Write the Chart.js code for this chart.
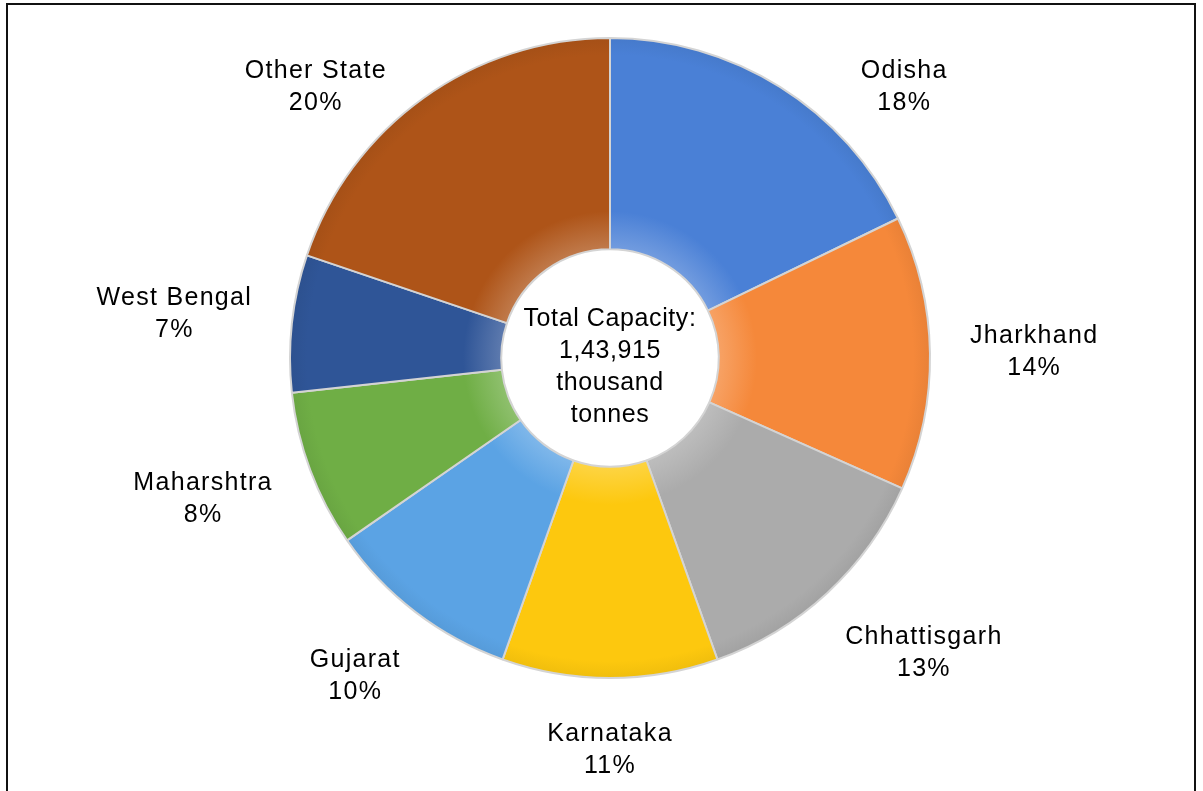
<!DOCTYPE html>
<html>
<head>
<meta charset="utf-8">
<title>Steel capacity by state</title>
<script src="https://cdn.jsdelivr.net/npm/chart.js@4.4.1/dist/chart.umd.min.js"></script>
<style>
  html, body { margin: 0; padding: 0; background: #fff; overflow: hidden; }
  .wrap { position: relative; width: 1203px; height: 791px; }
  .frame { position: absolute; left: 6px; top: 3px; width: 1186px; height: 830px; border: 2px solid #111; }
  canvas { position: absolute; left: 0; top: 0; }
</style>
</head>
<body>
<div class="wrap">
  <div class="frame"></div>
  <canvas id="capacityChart" width="1203" height="791"></canvas>
</div>
<script>
const states = ["Odisha", "Jharkhand", "Chhattisgarh", "Karnataka", "Gujarat", "Maharshtra", "West Bengal", "Other State"];
const shares = [18, 14, 13, 11, 10, 8, 7, 20]; // % of total capacity
const sliceColors = ["#4a80d6", "#f5883a", "#ababab", "#fdc80e", "#5ba3e4", "#6fae45", "#2f5597", "#ae5418"];
const centerLines = ["Total Capacity:", "1,43,915", "thousand", "tonnes"];

const ringRadius = 320;
const holeShare = 0.34;
const textFont = '25px "Liberation Sans", Arial, sans-serif';
const lineGap = 32;

function clamp1(v) {
    return Math.max(-1, Math.min(1, v));
}

// mix a hex colour with white (amt > 0) or black (amt < 0)
function shade(hex, amt) {
    const n = parseInt(hex.slice(1), 16);
    const t = amt > 0 ? 255 : 0;
    const p = Math.abs(amt);
    const r = Math.round(((n >> 16) & 255) * (1 - p) + t * p);
    const g = Math.round(((n >> 8) & 255) * (1 - p) + t * p);
    const b = Math.round((n & 255) * (1 - p) + t * p);
    return "rgb(" + r + "," + g + "," + b + ")";
}

// soft bevel: a little lighter near the hole, base colour further out
function sliceFill(context) {
    const chart = context.chart;
    const base = sliceColors[context.dataIndex];
    const area = chart.chartArea;
    if (!area) return base;
    const x = (area.left + area.right) / 2;
    const y = (area.top + area.bottom) / 2;
    const g = chart.ctx.createRadialGradient(x, y, ringRadius * holeShare, x, y, ringRadius);
    g.addColorStop(0, shade(base, 0.22));
    g.addColorStop(0.18, base);
    g.addColorStop(0.92, base);
    g.addColorStop(1, shade(base, -0.05));
    return g;
}

// state name + share outside every slice; labels that would hit the top slide sideways
const outsideLabels = {
    id: "outsideLabels",
    afterDraw(chart) {
        const ctx = chart.ctx;
        const meta = chart.getDatasetMeta(0);
        const minY = chart.chartArea.top + 87;
        ctx.save();
        ctx.font = textFont;
        ctx.letterSpacing = "1.3px";
        ctx.fillStyle = "#000";
        ctx.textAlign = "center";
        ctx.textBaseline = "middle";
        meta.data.forEach(function (arc, i) {
            const lines = [states[i], shares[i] + "%"];
            const w = Math.max(ctx.measureText(lines[0]).width, ctx.measureText(lines[1]).width);
            const h = lineGap * 2;
            const r = arc.outerRadius + 40;
            const a = (arc.startAngle + arc.endAngle) / 2 + Math.PI / 2; // from 12 o'clock, clockwise
            const s = Math.sin(a), c = Math.cos(a);
            let cx = arc.x + s * r + clamp1(s * 1.3) * w / 2;
            let cy = arc.y - c * r - clamp1(c * 1.3) * h / 2;
            if (cy < minY) {
                const rc = r + h / 2 + 8;
                const cc = (arc.y - minY) / rc;
                cx = arc.x + Math.sign(s) * Math.sqrt(1 - cc * cc) * rc;
                cy = minY;
            }
            ctx.fillText(lines[0], cx, cy - lineGap / 2);
            ctx.fillText(lines[1], cx, cy + lineGap / 2);
        });
        ctx.restore();
    }
};

const centerText = {
    id: "centerText",
    afterDraw(chart) {
        const ctx = chart.ctx;
        const arc = chart.getDatasetMeta(0).data[0];
        ctx.save();
        ctx.font = textFont;
        ctx.letterSpacing = "0.6px";
        ctx.fillStyle = "#000";
        ctx.textAlign = "center";
        ctx.textBaseline = "middle";
        const top = arc.y + 9 - lineGap * (centerLines.length - 1) / 2;
        centerLines.forEach(function (t, i) {
            ctx.fillText(t, arc.x, top + i * lineGap);
        });
        ctx.restore();
    }
};

new Chart("capacityChart", {
    type: "doughnut",
    data: {
        labels: states,
        datasets: [{
            data: shares,
            backgroundColor: sliceFill,
            borderColor: "#d4d4d4",
            borderWidth: 2
        }]
    },
    options: {
        responsive: false,
        animation: false,
        radius: ringRadius,
        cutout: (holeShare * 100) + "%",
        layout: { padding: { left: 17, right: 0, top: 0, bottom: 75 } },
        plugins: {
            legend: { display: false },
            tooltip: { enabled: false }
        }
    },
    plugins: [outsideLabels, centerText]
});
</script>
</body>
</html>
